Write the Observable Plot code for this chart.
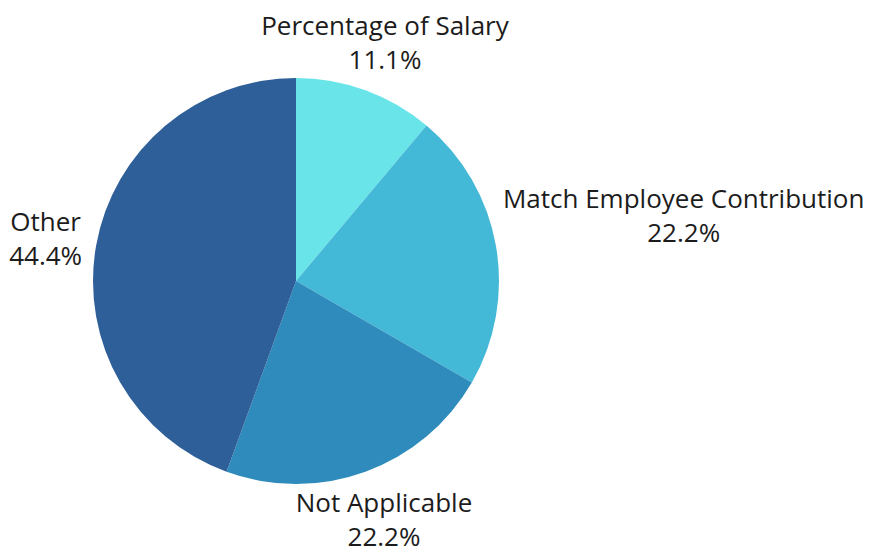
<!DOCTYPE html>
<html><head><meta charset="utf-8">
<script src="https://cdn.jsdelivr.net/npm/d3@7"></script>
<script src="https://cdn.jsdelivr.net/npm/@observablehq/plot@0.6"></script>
<style>body{margin:0;background:#fff} #chart svg{display:block}</style>
</head><body><div id="chart"></div>
<script>
const categories = ["Percentage of Salary", "Match Employee Contribution", "Not Applicable", "Other"];
const shares = [11.1, 22.2, 22.2, 44.4];
const colors = ["#69E4E8", "#44B8D7", "#2E8BBB", "#2E5F98"];

const font = "'Open Sans', sans-serif";
const fontSize = 26;

const arcs = d3.pie().sort(null).value(d => d.value)(categories.map((c, i) => ({category: c, value: shares[i]})));
const data = arcs.map(a => ({...a.data, startAngle: a.startAngle, endAngle: a.endAngle, mid: (a.startAngle + a.endAngle) / 2}));
data.forEach(d => { d.label = `${d.category}\n${d.value.toFixed(1)}%`; d.wide = d.category.length > 20 && Math.abs(Math.sin(d.mid)) > 0.5; });

// measure label width so wide side labels sit beside the pie, lines centred
const ctx = document.createElement("canvas").getContext("2d");
ctx.font = `${fontSize}px ${font}`;
const halfWidth = d => Math.max(...d.label.split("\n").map(s => ctx.measureText(s).width)) / 2;
const wideData = data.filter(d => d.wide);
const wideDx = wideData.length ? halfWidth(wideData[0]) - 1.5 : 0;
const bottomData = data.filter(d => !d.wide && Math.cos(d.mid) < -0.5);
const restData = data.filter(d => !d.wide && Math.cos(d.mid) >= -0.5);

const labelOpts = {text: "label", fontSize, lineHeight: 1.3, fill: "#1c1c1c"};
const at = r => ({x: d => r * Math.sin(d.mid), y: d => r * Math.cos(d.mid)});

const chart = Plot.plot({
  width: 876, height: 555,
  margin: 0,
  style: {fontFamily: font, background: "#fff"},
  x: {domain: [-1, 1], range: [93, 499], axis: null},
  y: {domain: [-1, 1], range: [484, 78], axis: null},
  color: {domain: categories, range: colors},
  marks: [
    Plot.dot(data, {
      x: () => 0, y: () => 0, fill: "category",
      render: (index, scales, values) => {
        const cx = scales.x(0), cy = scales.y(0), r = scales.x(1) - scales.x(0);
        const arc = d3.arc().innerRadius(0).outerRadius(r);
        const g = d3.create("svg:g").attr("transform", `translate(${cx},${cy})`);
        for (const i of index) {
          g.append("path").attr("d", arc(data[i])).attr("fill", values.fill[i]);
        }
        return g.node();
      }
    }),
    Plot.text(restData, {...at(1.26), ...labelOpts, textAnchor: "middle", lineAnchor: "middle", dx: 1}),
    Plot.text(bottomData, {...at(1.26), ...labelOpts, textAnchor: "middle", lineAnchor: "middle", dy: -4}),
    Plot.text(wideData, {...at(1.04), ...labelOpts, textAnchor: "middle", lineAnchor: "bottom", dx: wideDx, dy: -3})
  ]
});
document.getElementById("chart").append(chart);
</script>
</body></html>
